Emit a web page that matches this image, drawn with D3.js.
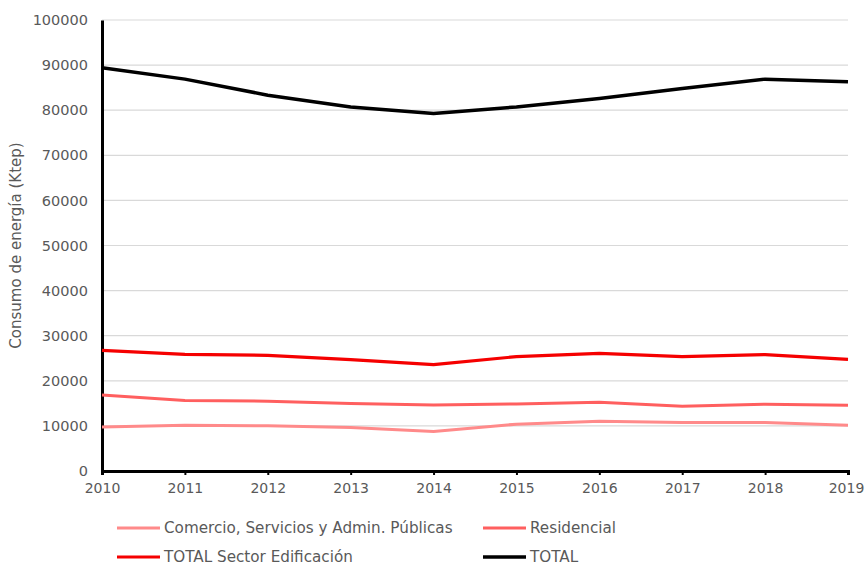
<!DOCTYPE html>
<html>
<head>
<meta charset="utf-8">
<script src="https://cdn.jsdelivr.net/npm/d3@7"></script>
<style>
  html, body { margin: 0; padding: 0; background: #fff; }
  svg { display: block; font-family: "DejaVu Sans", sans-serif; }
</style>
</head>
<body>
<svg id="chart" width="865" height="565"></svg>
<script>
// Consumo de energía por sector (Ktep), 2010–2019
const years = [2010, 2011, 2012, 2013, 2014, 2015, 2016, 2017, 2018, 2019];
const comercio = [9730, 10170, 10020, 9660, 8780, 10390, 11050, 10770, 10770, 10170];
const residencial = [16870, 15630, 15480, 14970, 14660, 14880, 15260, 14370, 14810, 14590];
const totalEdificacion = [26750, 25870, 25650, 24700, 23590, 25360, 26090, 25360, 25800, 24760];
const total = [89400, 86890, 83330, 80730, 79270, 80730, 82600, 84820, 86890, 86290];
const yTicks = [0, 10000, 20000, 30000, 40000, 50000, 60000, 70000, 80000, 90000, 100000];
const seriesNames = ["Comercio, Servicios y Admin. Públicas", "Residencial", "TOTAL Sector Edificación", "TOTAL"];

const series = [
  { name: seriesNames[0], values: comercio, color: "#ff8a8a", width: 3 },
  { name: seriesNames[1], values: residencial, color: "#ff5f5f", width: 3 },
  { name: seriesNames[2], values: totalEdificacion, color: "#f50000", width: 3.2 },
  { name: seriesNames[3], values: total, color: "#000000", width: 3.5 }
];

const svg = d3.select("#chart");
const margin = { left: 102, right: 17, top: 20, bottom: 94 };
const W = 865, H = 565;

const x = d3.scaleLinear()
  .domain([years[0], years[years.length - 1]])
  .range([margin.left, W - margin.right]);
const y = d3.scaleLinear()
  .domain([0, 100000])
  .range([H - margin.bottom, margin.top]);

const textColor = "#595959";

// horizontal gridlines
svg.append("g")
  .selectAll("line")
  .data(yTicks.filter(d => d > 0))
  .join("line")
  .attr("x1", x.range()[0]).attr("x2", x.range()[1])
  .attr("y1", d => y(d)).attr("y2", d => y(d))
  .attr("stroke", "#d9d9d9").attr("stroke-width", 1.2);

// y axis
const yAxis = svg.append("g")
  .attr("transform", `translate(${margin.left},0)`)
  .call(d3.axisLeft(y).tickValues(yTicks).tickSize(0).tickPadding(14).tickFormat(d3.format("d")));
yAxis.select(".domain").attr("stroke", "#000").attr("stroke-width", 3);
yAxis.selectAll("text").attr("fill", textColor).style("font-size", "14.5px")
  .style("font-family", "DejaVu Sans, sans-serif");

// x axis
const xAxis = svg.append("g")
  .attr("transform", `translate(0,${y(0)})`)
  .call(d3.axisBottom(x).tickValues(years).tickSize(4).tickPadding(8).tickFormat(d3.format("d")));
xAxis.select(".domain").attr("stroke", "#000").attr("stroke-width", 3);
xAxis.selectAll(".tick line").attr("stroke", "#000").attr("stroke-width", 2);
xAxis.selectAll("text").attr("fill", textColor).style("font-size", "14px")
  .style("font-family", "DejaVu Sans, sans-serif");
// keep the last year label inside the canvas
xAxis.selectAll(".tick").filter(d => d === years[years.length - 1])
  .select("text").attr("dx", -2);

// y axis title
svg.append("text")
  .attr("transform", `translate(21,${(y(0) + y(100000)) / 2}) rotate(-90)`)
  .attr("text-anchor", "middle")
  .attr("fill", textColor)
  .style("font-size", "15px")
  .text("Consumo de energía (Ktep)");

// series lines
const line = d3.line()
  .x((d, i) => x(years[i]))
  .y(d => y(d));

svg.append("g")
  .selectAll("path")
  .data(series)
  .join("path")
  .attr("d", d => line(d.values))
  .attr("fill", "none")
  .attr("stroke", d => d.color)
  .attr("stroke-width", d => d.width)
  .attr("stroke-linejoin", "round");

// legend
const legendPos = [
  { x: 117, y: 528 }, { x: 483, y: 528 },
  { x: 117, y: 557 }, { x: 483, y: 557 }
];
const lg = svg.append("g")
  .selectAll("g")
  .data(series)
  .join("g")
  .attr("transform", (d, i) => `translate(${legendPos[i].x},${legendPos[i].y})`);
lg.append("line")
  .attr("x1", 0).attr("x2", 43)
  .attr("stroke", d => d.color)
  .attr("stroke-width", d => d.width);
lg.append("text")
  .attr("x", 47).attr("dy", "0.35em")
  .attr("fill", textColor)
  .style("font-size", "15.2px")
  .text(d => d.name);
</script>
</body>
</html>
